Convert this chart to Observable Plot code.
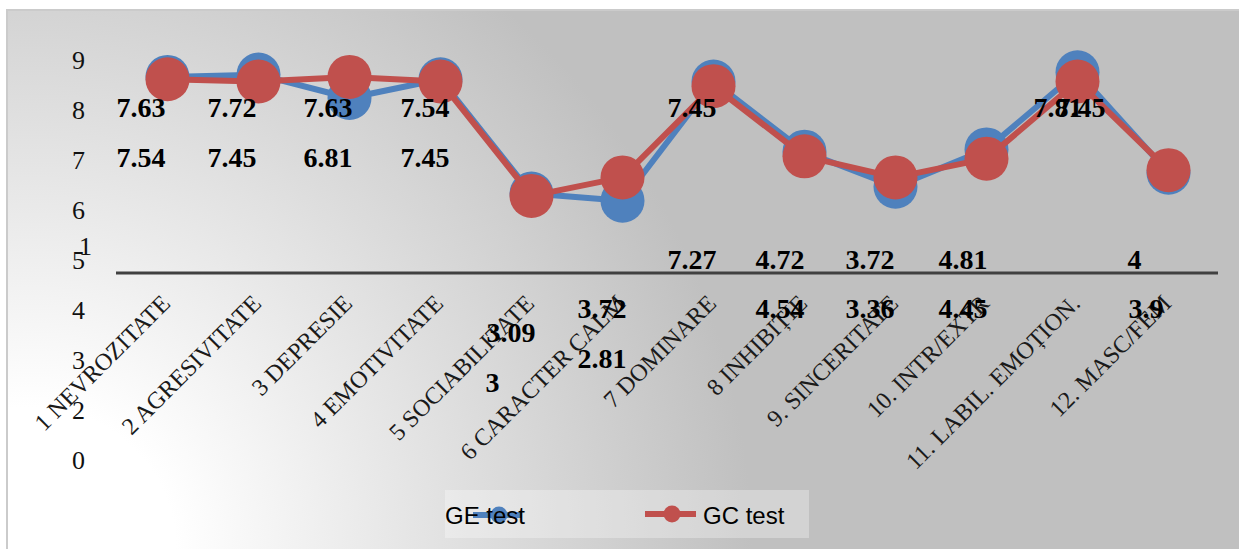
<!DOCTYPE html>
<html>
<head>
<meta charset="utf-8">
<script src="https://cdn.jsdelivr.net/npm/d3@7"></script>
<script src="https://cdn.jsdelivr.net/npm/@observablehq/plot@0.6"></script>
<style>
  body { margin: 0; background: #fff; }
  #chart { position: relative; width: 1239px; height: 549px; overflow: hidden; background: #fff; }
  #frame {
    position: absolute; left: 6px; top: 9px; width: 1240px; height: 545px;
    border: 2px solid #cbcbcb; box-sizing: border-box;
    background: radial-gradient(circle 720px at 24px 540px, #ffffff 0%, #ffffff 20%, #c0c0c0 100%);
  }
  #chart svg { position: absolute; left: 0; top: 0; }
  #legend { position: absolute; left: 445px; top: 490px; width: 364px; height: 48px; background: rgba(255,255,255,0.3); }
</style>
</head>
<body>
<div id="chart"><div id="frame"></div></div>
<script>
// Scale categories of the personality questionnaire
const categories = [
  "1 NEVROZITATE", "2 AGRESIVITATE", "3 DEPRESIE", "4 EMOTIVITATE",
  "5 SOCIABILITATE", "6 CARACTER CALM", "7 DOMINARE", "8 INHIBIȚIE",
  "9. SINCERITATE", "10. INTR/EXTR", "11. LABIL. EMOȚION.", "12. MASC/FEM"
];
// Mean scores per group
const geTest = [7.63, 7.72, 6.81, 7.54, 3.09, 2.81, 7.45, 4.72, 3.36, 4.81, 7.81, 3.9];
const gcTest = [7.54, 7.45, 7.63, 7.45, 3, 3.72, 7.27, 4.54, 3.72, 4.45, 7.45, 4];
const seriesNames = ["GE test", "GC test"];
const seriesColors = ["#4F81BD", "#C0504D"];
// Labels of the value axis at the left
const yTickLabels = ["9", "8", "7", "6", "5", "4", "3", "2", "0"];
const strayTick = "1";

const serif = "'Liberation Serif', 'Times New Roman', serif";
const rows = (values, name) => values.map((v, i) => ({cat: categories[i], value: v, series: name}));
const ge = rows(geTest, seriesNames[0]);
const gc = rows(gcTest, seriesNames[1]);
const bySeries = {GE: ge, GC: gc};

// Where each value label sits (row level on the value scale, horizontal shift)
const rowLevel = {upper: 6.40, middle: 4.49, base: 0.49, below: -1.42, low1: -2.32, low2: -3.33, low3: -4.30};
const labelSpots = [
  {s: "GE", i: 0, row: "upper", dx: -51}, {s: "GC", i: 0, row: "middle", dx: -51},
  {s: "GE", i: 1, row: "upper", dx: -51}, {s: "GC", i: 1, row: "middle", dx: -51},
  {s: "GC", i: 2, row: "upper", dx: -46}, {s: "GE", i: 2, row: "middle", dx: -46},
  {s: "GE", i: 3, row: "upper", dx: -40}, {s: "GC", i: 3, row: "middle", dx: -40},
  {s: "GE", i: 4, row: "low1", dx: -45},  {s: "GC", i: 4, row: "low3", dx: -46},
  {s: "GC", i: 5, row: "below", dx: -45}, {s: "GE", i: 5, row: "low2", dx: -45},
  {s: "GE", i: 6, row: "upper", dx: -46}, {s: "GC", i: 6, row: "base", dx: -46},
  {s: "GE", i: 7, row: "base", dx: -49},  {s: "GC", i: 7, row: "below", dx: -49},
  {s: "GC", i: 8, row: "base", dx: -50},  {s: "GE", i: 8, row: "below", dx: -50},
  {s: "GE", i: 9, row: "base", dx: -48},  {s: "GC", i: 9, row: "below", dx: -48},
  {s: "GE", i: 10, row: "upper", dx: -44}, {s: "GC", i: 10, row: "upper", dx: -21},
  {s: "GC", i: 11, row: "base", dx: -41}, {s: "GE", i: 11, row: "below", dx: -40}
];
const valueLabels = labelSpots.map(d => ({
  cat: categories[d.i],
  level: rowLevel[d.row],
  text: String(bySeries[d.s][d.i].value),
  dx: d.dx
}));

const chart = document.getElementById("chart");

const main = Plot.plot({
  width: 1239,
  height: 549,
  marginLeft: 116,
  marginRight: 21,
  marginTop: 15.5,
  marginBottom: 276.5,
  x: {type: "point", domain: categories, padding: 0.5, axis: null},
  y: {domain: [0, 10], axis: null},
  style: {background: "transparent", overflow: "visible"},
  marks: [
    Plot.ruleY([0], {stroke: "#404040", strokeWidth: 3}),
    Plot.text(categories, {
      x: d => d, frameAnchor: "bottom", rotate: -45, textAnchor: "end", lineAnchor: "bottom",
      dx: 4, dy: 32, fontSize: 24, fontFamily: serif, fill: "#1a1a1a"
    }),
    Plot.line(ge, {x: "cat", y: "value", stroke: seriesColors[0], strokeWidth: 6}),
    Plot.dot(ge, {x: "cat", y: "value", r: 22, fill: seriesColors[0]}),
    Plot.line(gc, {x: "cat", y: "value", stroke: seriesColors[1], strokeWidth: 6}),
    Plot.dot(gc, {x: "cat", y: "value", r: 22, fill: seriesColors[1]}),
    ...valueLabels.map(d => Plot.text([d], {
      x: "cat", y: "level", text: "text", dx: d.dx, textAnchor: "start",
      fontSize: 28, fontWeight: "bold", fontFamily: serif, fill: "#000"
    }))
  ]
});
chart.appendChild(main);

const ticks = Plot.plot({
  width: 120,
  height: 549,
  marginLeft: 0, marginRight: 0,
  marginTop: 57,
  marginBottom: 87,
  y: {type: "point", domain: yTickLabels, padding: 0, axis: null},
  style: {background: "transparent", overflow: "visible"},
  marks: [
    Plot.text(yTickLabels, {y: d => d, text: d => d, frameAnchor: "left", dx: 78, textAnchor: "middle", fontSize: 26, fontFamily: serif, fill: "#111"}),
    Plot.text([strayTick], {y: () => "5", text: d => d, frameAnchor: "left", dx: 85, dy: -14, textAnchor: "middle", fontSize: 26, fontFamily: serif, fill: "#111"})
  ]
});
chart.appendChild(ticks);

// Legend
const legendDiv = d3.select(chart).append("div").attr("id", "legend");
const lsvg = legendDiv.append("svg").attr("width", 364).attr("height", 48)
  .style("font-family", "'Liberation Sans', sans-serif").style("font-size", "24px");
const legendItems = [
  {name: seriesNames[0], color: seriesColors[0], lineX: [28, 77], cx: 54, cy: 25, textX: 0},
  {name: seriesNames[1], color: seriesColors[1], lineX: [200, 251], cx: 227, cy: 24, textX: 258}
];
for (const it of legendItems) {
  lsvg.append("line").attr("x1", it.lineX[0]).attr("x2", it.lineX[1]).attr("y1", it.cy).attr("y2", it.cy)
    .attr("stroke", it.color).attr("stroke-width", 6);
  lsvg.append("circle").attr("cx", it.cx).attr("cy", it.cy).attr("r", 8.5).attr("fill", it.color);
  lsvg.append("text").attr("x", it.textX).attr("y", 34).attr("fill", "#000").text(it.name);
}
</script>
</body>
</html>
